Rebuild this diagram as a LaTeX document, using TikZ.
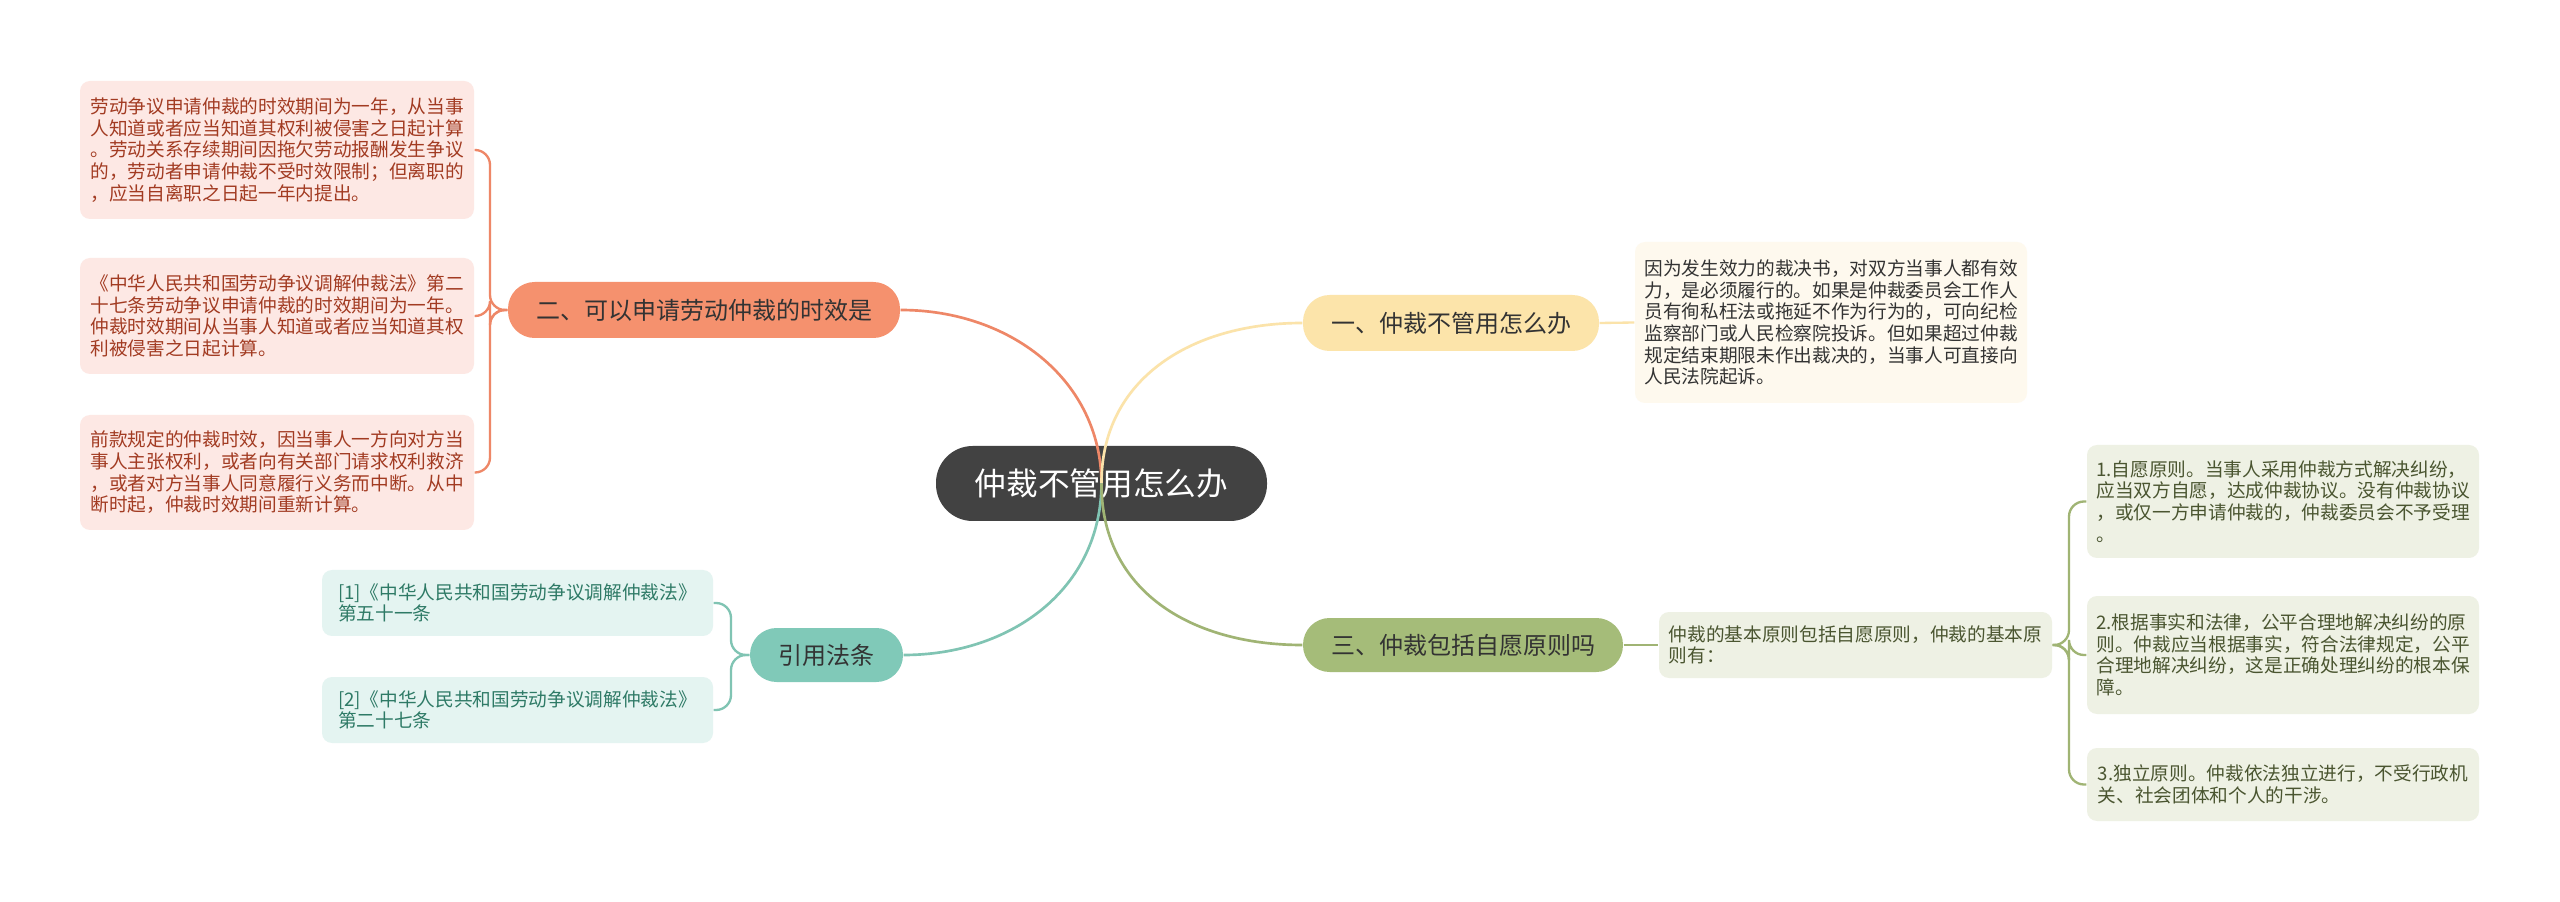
\documentclass[tikz,border=0pt]{standalone}
\usepackage{fontspec}
\setmainfont{Noto Sans CJK SC}
\definecolor{cdark}{HTML}{424242}
\definecolor{yfill}{HTML}{FCE4AA}
\definecolor{yline}{HTML}{FBE3AA}
\definecolor{yleaf}{HTML}{FEF9EE}
\definecolor{ofill}{HTML}{F5916E}
\definecolor{oline}{HTML}{EE8767}
\definecolor{oleaf}{HTML}{FDE8E4}
\definecolor{otext}{HTML}{A23B22}
\definecolor{tfill}{HTML}{80C9B8}
\definecolor{tline}{HTML}{80C4B3}
\definecolor{tleaf}{HTML}{E4F4F1}
\definecolor{ttext}{HTML}{2E7A66}
\definecolor{gfill}{HTML}{A5BC79}
\definecolor{gline}{HTML}{A0B474}
\definecolor{gleaf}{HTML}{EEF1E4}
\definecolor{gtext}{HTML}{4A5530}
\definecolor{btext}{HTML}{333333}
\tikzset{
  box/.style={inner sep=0pt, align=left},
  leaf/.style={box, rounded corners=3pt, font=\fontsize{5.6}{6.5}\selectfont},
  branch/.style={box, rounded corners=8pt, text=btext, font=\fontsize{7.2}{8.5}\selectfont},
  link/.style={line width=0.8pt},
  bracket/.style={line width=0.7pt, rounded corners=4.5pt}
}
\begin{document}
\begin{tikzpicture}[x=0.3pt,y=-0.3pt]
\useasboundingbox[fill=white] (0,0) rectangle (2560,902);

% central
\node[box, fill=cdark, text=white, rounded corners=11pt, minimum width=99.3pt, minimum height=22.5pt, font=\fontsize{9.5}{11}\selectfont] (c) at (1101.5,483.5) {仲裁不管用怎么办};

% branch 1 (yellow)
\node[branch, fill=yfill, minimum width=88.8pt, minimum height=16.8pt] (b1) at (1451,323) {一、仲裁不管用怎么办};
\node[leaf, fill=yleaf, text=btext, minimum width=117.6pt, minimum height=48.3pt] (y1) at (1831,322.5) {因为发生效力的裁决书，对双方当事人都有效\\力，是必须履行的。如果是仲裁委员会工作人\\员有徇私枉法或拖延不作为行为的，可向纪检\\监察部门或人民检察院投诉。但如果超过仲裁\\规定结束期限未作出裁决的，当事人可直接向\\人民法院起诉。};

% branch 2 (orange)
\node[branch, fill=ofill, minimum width=117.6pt, minimum height=16.8pt] (b2) at (704,310) {二、可以申请劳动仲裁的时效是};
\node[leaf, fill=oleaf, text=otext, minimum width=118.2pt, minimum height=41.4pt] (o1) at (277,150) {劳动争议申请仲裁的时效期间为一年，从当事\\人知道或者应当知道其权利被侵害之日起计算\\。劳动关系存续期间因拖欠劳动报酬发生争议\\的，劳动者申请仲裁不受时效限制；但离职的\\，应当自离职之日起一年内提出。};
\node[leaf, fill=oleaf, text=otext, minimum width=118.2pt, minimum height=34.8pt] (o2) at (277,316) {《中华人民共和国劳动争议调解仲裁法》第二\\十七条劳动争议申请仲裁的时效期间为一年。\\仲裁时效期间从当事人知道或者应当知道其权\\利被侵害之日起计算。};
\node[leaf, fill=oleaf, text=otext, minimum width=118.2pt, minimum height=34.5pt] (o3) at (277,472.5) {前款规定的仲裁时效，因当事人一方向对方当\\事人主张权利，或者向有关部门请求权利救济\\，或者对方当事人同意履行义务而中断。从中\\断时起，仲裁时效期间重新计算。};

% branch 3 (teal)
\node[branch, fill=tfill, minimum width=45.9pt, minimum height=16.2pt] (b3) at (826.5,655) {引用法条};
\node[leaf, fill=tleaf, text=ttext, minimum width=117.3pt, minimum height=19.8pt] (t1) at (517.5,603) {[1]《中华人民共和国劳动争议调解仲裁法》\\第五十一条};
\node[leaf, fill=tleaf, text=ttext, minimum width=117.3pt, minimum height=19.8pt] (t2) at (517.5,710) {[2]《中华人民共和国劳动争议调解仲裁法》\\第二十七条};

% branch 4 (green)
\node[branch, fill=gfill, minimum width=96pt, minimum height=16.2pt] (b4) at (1463,645) {三、仲裁包括自愿原则吗};
\node[leaf, fill=gleaf, text=gtext, minimum width=117.9pt, minimum height=19.8pt] (g0) at (1855.5,645) {仲裁的基本原则包括自愿原则，仲裁的基本原\\则有：};
\node[leaf, fill=gleaf, text=gtext, minimum width=117.6pt, minimum height=33.9pt] (g1) at (2283,501.5) {1.自愿原则。当事人采用仲裁方式解决纠纷，\\应当双方自愿，达成仲裁协议。没有仲裁协议\\，或仅一方申请仲裁的，仲裁委员会不予受理\\。};
\node[leaf, fill=gleaf, text=gtext, minimum width=117.6pt, minimum height=35.4pt] (g2) at (2283,655) {2.根据事实和法律，公平合理地解决纠纷的原\\则。仲裁应当根据事实，符合法律规定，公平\\合理地解决纠纷，这是正确处理纠纷的根本保\\障。};
\node[leaf, fill=gleaf, text=gtext, minimum width=117.6pt, minimum height=21.9pt] (g3) at (2283,784.5) {3.独立原则。仲裁依法独立进行，不受行政机\\关、社会团体和个人的干涉。};

% main connectors
\draw[link, draw=oline] (c.center) .. controls (1101,380) and (1010,310) .. (b2.east);
\draw[link, draw=yline] (c.center) .. controls (1101,380) and (1190,323) .. (b1.west);
\draw[link, draw=tline] (c.center) .. controls (1101,590) and (1010,655) .. (b3.east);
\draw[link, draw=gline] (c.center) .. controls (1101,590) and (1190,645) .. (b4.west);

% sub connectors
\coordinate (ob) at (490,310);
\draw[bracket, draw=oline] (b2.west) -- (ob) |- (o1.east);
\draw[bracket, draw=oline] (b2.west) -- (ob) |- (o2.east);
\draw[bracket, draw=oline] (b2.west) -- (ob) |- (o3.east);

\coordinate (tb) at (731,655);
\draw[bracket, draw=tline] (b3.west) -- (tb) |- (t1.east);
\draw[bracket, draw=tline] (b3.west) -- (tb) |- (t2.east);

\draw[bracket, draw=yline] (b1.east) -- (y1.west);
\draw[bracket, draw=gline] (b4.east) -- (g0.west);

\coordinate (gb) at (2069,645);
\draw[bracket, draw=gline] (g0.east) -- (gb) |- (g1.west);
\draw[bracket, draw=gline] (g0.east) -- (gb) |- (g2.west);
\draw[bracket, draw=gline] (g0.east) -- (gb) |- (g3.west);
\end{tikzpicture}
\end{document}
